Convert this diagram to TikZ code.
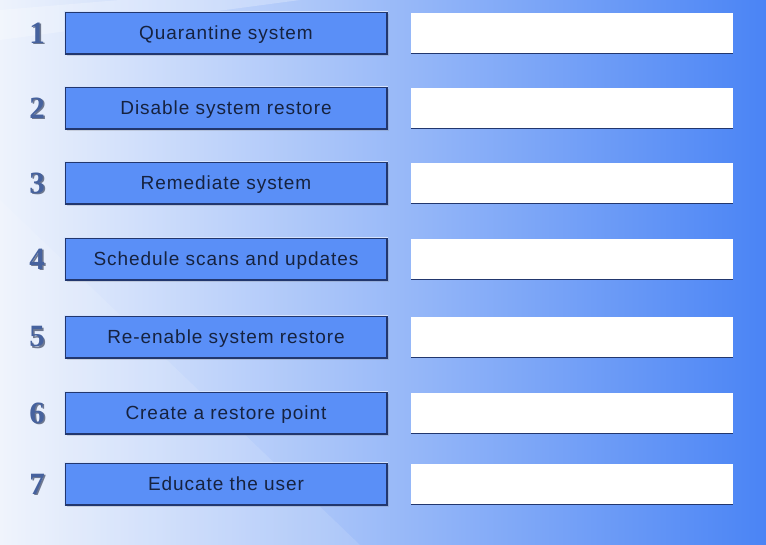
\documentclass[tikz,border=0pt]{standalone}
\usepackage{fontspec}
\setmainfont{Liberation Sans}
\newfontfamily\numfont{Liberation Serif}
\newfontfamily\btnfont[LetterSpace=5]{Liberation Sans}
\usetikzlibrary{shadows}

\definecolor{bgleft}{HTML}{EEF3FC}
\definecolor{bgmid}{HTML}{9CBBF3}
\definecolor{bgright}{HTML}{4A84F5}
\definecolor{btnblue}{HTML}{5A8FF7}
\definecolor{btnedge}{HTML}{22376E}
\definecolor{btntext}{HTML}{16223F}
\definecolor{numblue}{HTML}{46629E}
\definecolor{numshade}{HTML}{1E2A48}

\tikzset{
  btnbox/.style={draw=btnedge, fill=btnblue, line width=1.2pt,
    minimum width=322pt, minimum height=42pt, inner sep=0pt,
    text height=13.7pt, text depth=0pt,
    text=btntext, font=\btnfont\fontsize{19}{20}\selectfont,
    drop shadow={opacity=0.25, shadow xshift=2pt, shadow yshift=-2pt}},
  ansbox/.style={fill=white, minimum width=322pt, minimum height=40pt, inner sep=0pt},
  numlabel/.style={text=numblue, inner sep=0pt,
    font=\numfont\bfseries\fontsize{31}{31}\selectfont},
  numshadow/.style={numlabel, text=numshade, opacity=0.6},
}

\begin{document}
\begin{tikzpicture}[x=1pt, y=-1pt]
  % --- background ---
  \shade[left color=bgleft, middle color=bgmid, right color=bgright]
    (0,0) rectangle (766,545);
  \fill[white, opacity=0.25] (0,40) -- (300,0) -- (120,0) -- (0,10) -- cycle;
  \fill[white, opacity=0.12] (0,200) -- (360,545) -- (0,545) -- cycle;
  \useasboundingbox (0,0) rectangle (766,545);
  % --- rows: number, step button, empty answer box ---
  \foreach \i/\y/\txt in {1/33/Quarantine system,
                           2/108/Disable system restore,
                           3/183/Remediate system,
                           4/259/Schedule scans and updates,
                           5/337/Re-enable system restore,
                           6/413/Create a restore point,
                           7/484/Educate the user}{
    \node[numshadow] (numsh\i) at (38.5,\y+1.5) {\i};
    \node[numlabel] (num\i) at (37,\y) {\i};
    \node[btnbox] (btn\i) at (226,\y) {\txt};
    \draw[white!75!btnblue, line width=1.2pt]
      (btn\i.south west) -- (btn\i.north west) -- (btn\i.north east);
    \node[ansbox] (ans\i) at (572,\y) {};
    \draw[btnedge, line width=1pt] (ans\i.south west) -- (ans\i.south east);
  }
\end{tikzpicture}
\end{document}
